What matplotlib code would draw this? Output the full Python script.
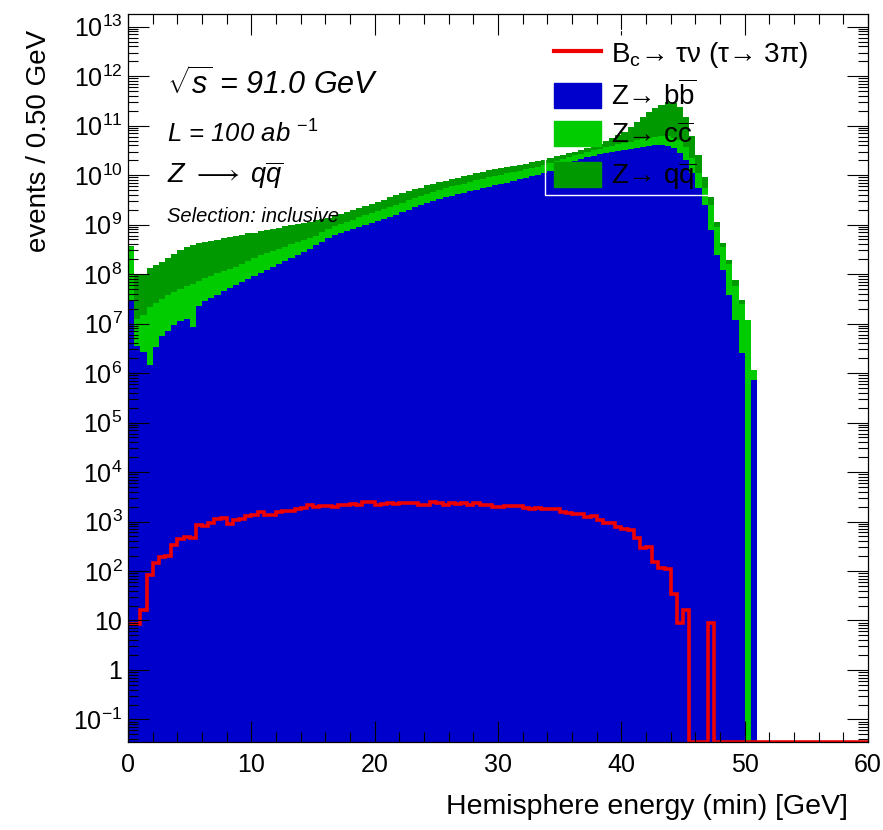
import numpy as np
import matplotlib
matplotlib.use("Agg")
import matplotlib.pyplot as plt
from matplotlib.ticker import FixedLocator, MultipleLocator, FuncFormatter, NullFormatter
from matplotlib.patches import Patch, Rectangle
from matplotlib.lines import Line2D

plt.rcParams["font.family"] = ["Liberation Sans", "DejaVu Sans"]
plt.rcParams["mathtext.fontset"] = "custom"
plt.rcParams["mathtext.rm"] = "Liberation Sans"
plt.rcParams["mathtext.it"] = "Liberation Sans:italic"
plt.rcParams["mathtext.bf"] = "Liberation Sans:bold"

BLUE = "#0000CC"
LTGREEN = "#00CC00"
DKGREEN = "#009900"
RED = "#EE0000"

# 0.5 GeV bins from 0 to 60 GeV
BIN_WIDTH = 0.5
edges = np.arange(121) * BIN_WIDTH

# stacked levels (events / bin)
z_bb = [
    2.95e7, 3.55e6, 2.63e6, 1.45e6, 3.39e6, 5.62e6, 7.08e6, 9.33e6, 1.12e7, 1.26e7,
    8.51e6, 2.24e7, 2.82e7, 3.31e7, 3.80e7, 4.47e7, 5.25e7, 6.03e7, 7.08e7, 7.94e7,
    9.12e7, 1.05e8, 1.20e8, 1.38e8, 1.58e8, 1.82e8, 2.09e8, 2.45e8, 2.82e8, 3.24e8,
    3.80e8, 4.47e8, 5.25e8, 6.17e8, 6.76e8, 7.41e8, 8.13e8, 8.91e8, 9.77e8, 1.07e9,
    1.17e9, 1.29e9, 1.41e9, 1.58e9, 1.78e9, 2.00e9, 2.24e9, 2.45e9, 2.69e9, 2.95e9,
    3.24e9, 3.55e9, 3.80e9, 4.07e9, 4.37e9, 4.68e9, 5.01e9, 5.37e9, 5.75e9, 6.17e9,
    6.61e9, 7.08e9, 7.59e9, 8.32e9, 8.91e9, 9.55e9, 1.02e10, 1.10e10, 1.20e10, 1.35e10,
    1.51e10, 1.74e10, 1.95e10, 2.14e10, 2.29e10, 2.45e10, 2.63e10, 2.82e10, 2.95e10, 3.09e10,
    3.24e10, 3.39e10, 3.47e10, 3.63e10, 3.80e10, 3.98e10, 4.07e10, 3.89e10, 3.47e10, 2.82e10,
    2.00e10, 1.12e10, 5.62e9, 2.45e9, 7.76e8, 2.40e8, 1.20e8, 3.80e7, 1.18e7, 2.51e6,
    0, 7.24e5, 0, 0, 0, 0, 0, 0, 0, 0,
    0, 0, 0, 0, 0, 0, 0, 0, 0, 0,
]
z_bb_cc = [
    3.55e8, 1.26e7, 1.48e7, 2.14e7, 2.57e7, 3.16e7, 3.80e7, 4.27e7, 4.90e7, 5.62e7,
    6.31e7, 7.24e7, 8.32e7, 9.33e7, 1.05e8, 1.15e8, 1.26e8, 1.41e8, 1.58e8, 1.82e8,
    2.09e8, 2.40e8, 2.63e8, 2.88e8, 3.16e8, 3.55e8, 3.98e8, 4.37e8, 4.79e8, 5.25e8,
    5.89e8, 7.08e8, 8.32e8, 9.33e8, 1.02e9, 1.15e9, 1.26e9, 1.41e9, 1.55e9, 1.70e9,
    1.86e9, 2.04e9, 2.24e9, 2.51e9, 2.75e9, 3.09e9, 3.39e9, 3.80e9, 4.17e9, 4.57e9,
    5.01e9, 5.50e9, 5.89e9, 6.31e9, 6.76e9, 7.41e9, 7.94e9, 8.51e9, 9.12e9, 9.55e9,
    1.02e10, 1.10e10, 1.15e10, 1.23e10, 1.32e10, 1.38e10, 1.48e10, 1.58e10, 1.74e10, 1.91e10,
    2.09e10, 2.29e10, 2.51e10, 2.69e10, 2.88e10, 3.16e10, 3.39e10, 3.63e10, 3.89e10, 4.17e10,
    4.47e10, 4.68e10, 5.01e10, 5.25e10, 5.62e10, 6.03e10, 6.31e10, 6.31e10, 5.75e10, 5.01e10,
    3.72e10, 2.24e10, 1.12e10, 5.62e9, 2.51e9, 8.91e8, 3.55e8, 1.58e8, 5.62e7, 2.51e7,
    1.18e7, 1.15e6, 0, 0, 0, 0, 0, 0, 0, 0,
    0, 0, 0, 0, 0, 0, 0, 0, 0, 0,
]
z_all = [
    3.63e8, 9.55e7, 1.00e8, 1.32e8, 1.51e8, 1.74e8, 2.09e8, 2.51e8, 3.02e8, 3.55e8,
    3.80e8, 4.17e8, 4.47e8, 4.68e8, 4.90e8, 5.25e8, 5.50e8, 5.89e8, 6.17e8, 6.61e8,
    6.92e8, 7.41e8, 7.76e8, 8.32e8, 8.71e8, 9.33e8, 9.77e8, 1.02e9, 1.07e9, 1.15e9,
    1.23e9, 1.29e9, 1.38e9, 1.48e9, 1.62e9, 1.78e9, 1.95e9, 2.14e9, 2.34e9, 2.57e9,
    2.88e9, 3.16e9, 3.55e9, 3.89e9, 4.27e9, 4.68e9, 5.13e9, 5.62e9, 6.17e9, 6.76e9,
    7.24e9, 7.76e9, 8.32e9, 8.91e9, 9.55e9, 1.02e10, 1.10e10, 1.18e10, 1.26e10, 1.32e10,
    1.38e10, 1.45e10, 1.51e10, 1.58e10, 1.70e10, 1.82e10, 1.95e10, 2.04e10, 2.24e10, 2.40e10,
    2.57e10, 2.75e10, 2.95e10, 3.16e10, 3.47e10, 3.80e10, 4.27e10, 4.79e10, 5.62e10, 6.61e10,
    7.59e10, 9.33e10, 1.18e11, 1.48e11, 1.91e11, 2.24e11, 2.63e11, 2.95e11, 2.82e11, 2.34e11,
    1.48e11, 6.31e10, 2.51e10, 9.12e9, 3.63e9, 1.12e9, 4.27e8, 1.91e8, 7.59e7, 2.95e7,
    1.18e7, 1.15e6, 0, 0, 0, 0, 0, 0, 0, 0,
    0, 0, 0, 0, 0, 0, 0, 0, 0, 0,
]
bc_taunu = [
    8.5, 8.5, 16, 83, 145, 190, 200, 340, 440, 480,
    460, 850, 810, 930, 1150, 1170, 910, 1050, 1120, 1320,
    1380, 1550, 1350, 1380, 1580, 1620, 1660, 1820, 1900, 2140,
    2000, 2040, 2090, 2000, 2190, 2140, 2240, 2190, 2450, 2510,
    2140, 2240, 2340, 2290, 2340, 2400, 2340, 2140, 2190, 2450,
    2400, 2140, 2340, 2290, 2340, 2140, 2340, 2190, 2140, 1950,
    2000, 2040, 2090, 2040, 1860, 1820, 1860, 1780, 1820, 1780,
    1580, 1510, 1450, 1410, 1230, 1290, 1070, 930, 950, 760,
    720, 660, 470, 290, 310, 150, 115, 112, 35, 9,
    16, 0, 0, 0, 9, 0, 0, 0, 0, 0,
    0, 0, 0, 0, 0, 0, 0, 0, 0, 0,
    0, 0, 0, 0, 0, 0, 0, 0, 0, 0,
]

labels = [
    r"B$_{\mathregular{c}}$→ τν (τ→ 3π)",
    r"Z→ $\mathregular{b\overline{b}}$",
    r"Z→ $\mathregular{c\overline{c}}$",
    r"Z→ $\mathregular{q\overline{q}}$",
]

YMIN, YMAX = 0.035, 1.8e13
FLOOR = 1e-3

fig = plt.figure(figsize=(8.83, 8.30), dpi=100)
ax = fig.add_axes([0.1450, 0.1060, 0.8381, 0.8771])
ax.set_yscale("log")


def filled(v):
    v = np.asarray(v, dtype=float)
    return np.where(v > 0, v, FLOOR)


ax.stairs(filled(z_all), edges, fill=True, color=DKGREEN, baseline=FLOOR, lw=0)
ax.stairs(filled(z_bb_cc), edges, fill=True, color=LTGREEN, baseline=FLOOR, lw=0)
ax.stairs(filled(z_bb), edges, fill=True, color=BLUE, baseline=FLOOR, lw=0)
bc = np.asarray(bc_taunu, dtype=float)
ax.stairs(np.where(bc > 0, bc, YMIN), edges, color=RED, lw=2.6, baseline=None)

ax.set_xlim(0, 60)
ax.set_ylim(YMIN, YMAX)

decades = np.arange(-1, 14)
ax.xaxis.set_major_locator(MultipleLocator(10))
ax.xaxis.set_minor_locator(MultipleLocator(2))
ax.yaxis.set_major_locator(FixedLocator(10.0 ** decades))
ax.yaxis.set_minor_locator(FixedLocator(
    [m * 10.0 ** k for k in range(-2, 13) for m in range(2, 10)]))
ax.yaxis.set_minor_formatter(NullFormatter())


def yfmt(v, pos):
    k = int(round(np.log10(v)))
    if k == 0:
        return "1"
    if k == 1:
        return "10"
    return r"$\mathregular{10^{%d}}$" % k


ax.yaxis.set_major_formatter(FuncFormatter(yfmt))
ax.tick_params(which="both", direction="in", top=True, right=True, width=0.8)
ax.tick_params(which="major", length=15)
ax.tick_params(which="minor", length=7.5)
ax.tick_params(axis="x", labelsize=18, pad=8)
ax.tick_params(axis="y", labelsize=18, pad=4)
for s in ax.spines.values():
    s.set_linewidth(0.9)

ax.set_xlabel("Hemisphere energy (min) [GeV]", fontsize=20.5, loc="right")
ax.xaxis.set_label_coords(0.973, -0.072)
ax.set_ylabel("events / 0.50 GeV", fontsize=20, loc="top")
ax.yaxis.set_label_coords(-0.103, 0.978)

tx = 0.0527
ax.text(tx, 0.890, r"$\sqrt{s}$ = 91.0 GeV", transform=ax.transAxes,
        fontsize=22, style="italic", va="baseline")
ax.text(tx, 0.823, r"L = 100 ab $^{\mathit{-1}}$", transform=ax.transAxes,
        fontsize=18.5, style="italic", va="baseline")
ax.text(tx, 0.768, r"$Z\ \longrightarrow\ q\overline{q}$", transform=ax.transAxes,
        fontsize=19.5, va="baseline")
ax.text(tx, 0.714, "Selection: inclusive", transform=ax.transAxes,
        fontsize=14.5, style="italic", va="baseline")

handles = [
    Line2D([], [], color=RED, lw=3),
    Patch(color=BLUE),
    Patch(color=LTGREEN),
    Patch(color=DKGREEN),
]
ax.legend(handles, labels, loc="upper left", bbox_to_anchor=(0.5757, 0.965),
          frameon=False, fontsize=20, handlelength=1.7, handleheight=1.0,
          handletextpad=0.35, labelspacing=0.38, borderpad=0, borderaxespad=0)
ax.add_patch(Rectangle((0.5635, 0.751), 0.2257, 0.227, transform=ax.transAxes,
                       fill=False, edgecolor="white", lw=1, zorder=5))

fig.savefig("out.png", dpi=100)
